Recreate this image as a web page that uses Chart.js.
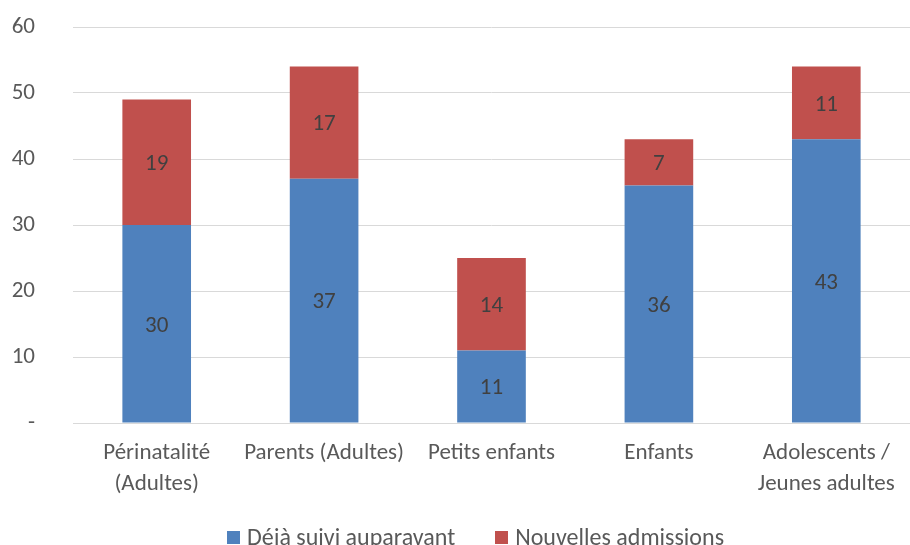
<!DOCTYPE html>
<html>
<head>
<meta charset="utf-8">
<script src="https://cdn.jsdelivr.net/npm/chart.js@4"></script>
<style>
  html, body { margin: 0; padding: 0; background: #fff; }
  #wrap { position: relative; width: 910px; height: 545px; }
  #legende {
    position: absolute; left: 0; right: 0; top: 522px; height: 28px;
    display: flex; justify-content: center; align-items: center; gap: 40px;
    font: 24px Calibri, Carlito, "Open Sans", sans-serif; color: #595959;
    padding-left: 41px;
  }
  #legende span.item { display: flex; align-items: center; white-space: nowrap; }
  #legende span.carre { display: inline-block; width: 13px; height: 13px; margin-right: 7px; margin-top: 2px; }
</style>
</head>
<body>
<div id="wrap">
  <canvas id="chart1"></canvas>
  <div id="legende"></div>
</div>
<script>
const categories = [
    ['Périnatalité', '(Adultes)'],
    'Parents (Adultes)',
    'Petits enfants',
    'Enfants',
    ['Adolescents /', 'Jeunes adultes']
];
const dejaSuivi = [30, 37, 11, 36, 43];
const nouvelles = [19, 17, 14, 7, 11];
const yTicks = [0, 10, 20, 30, 40, 50, 60];

const police = 'Calibri, Carlito, "Open Sans", sans-serif';

// write each segment's value in the middle of its bar
const valeursPlugin = {
    id: 'valeurs',
    afterDatasetsDraw(chart) {
        const ctx = chart.ctx;
        ctx.save();
        ctx.font = '23px ' + police;
        ctx.fillStyle = '#404040';
        ctx.textAlign = 'center';
        ctx.textBaseline = 'middle';
        chart.data.datasets.forEach((ds, i) => {
            chart.getDatasetMeta(i).data.forEach((bar, j) => {
                const mid = (bar.y + bar.base) / 2 + 2;
                ctx.fillText(ds.data[j], bar.x, mid);
            });
        });
        ctx.restore();
    }
};

// legend under the chart, built from the datasets
function crearLeyenda(chart) {
    const cont = document.getElementById('legende');
    cont.innerHTML = '';
    chart.data.datasets.forEach(ds => {
        const item = document.createElement('span');
        item.className = 'item';
        const carre = document.createElement('span');
        carre.className = 'carre';
        carre.style.background = ds.backgroundColor;
        item.appendChild(carre);
        item.appendChild(document.createTextNode(ds.label));
        cont.appendChild(item);
    });
}

let tablaAdmissions;
function crearTabla() {
    const ctx = document.getElementById('chart1');
    const config = {
        type: 'bar',
        data: {
            labels: categories,
            datasets: [{
                label: 'Déjà suivi auparavant',
                data: dejaSuivi,
                backgroundColor: '#4F81BD'
            }, {
                label: 'Nouvelles admissions',
                data: nouvelles,
                backgroundColor: '#C0504D'
            }]
        },
        options: {
            responsive: true,
            maintainAspectRatio: false,
            animation: false,
            layout: { padding: { top: 27, right: 0, left: 0, bottom: 47 } },
            datasets: { bar: { categoryPercentage: 1, barPercentage: 0.41 } },
            scales: {
                x: {
                    stacked: true,
                    afterFit: (scale) => {
                        scale.height = 75;
                        scale.paddingLeft = 0;
                        scale.paddingRight = 0;
                    },
                    grid: { display: false },
                    border: { color: '#D9D9D9', width: 1 },
                    ticks: {
                        color: '#595959',
                        font: { size: 23, family: police, lineHeight: 1.33 },
                        padding: 7,
                        maxRotation: 0
                    }
                },
                y: {
                    stacked: true,
                    min: 0,
                    max: 60,
                    afterFit: (scale) => {
                        scale.width = 73;
                        scale.paddingTop = 0;
                        scale.paddingBottom = 0;
                    },
                    afterBuildTicks: (scale) => { scale.ticks = yTicks.map(v => ({ value: v })); },
                    grid: { color: '#D9D9D9', lineWidth: 1, drawTicks: false },
                    border: { display: false },
                    ticks: {
                        color: '#595959',
                        padding: 38,
                        font: { size: 23, family: police },
                        callback: (v) => v === 0 ? '-' : v
                    }
                }
            },
            plugins: {
                legend: { display: false },
                tooltip: { enabled: false }
            }
        },
        plugins: [valeursPlugin]
    };
    if (tablaAdmissions instanceof Chart) {
        tablaAdmissions.destroy();
    }
    tablaAdmissions = new Chart(ctx, config);
    crearLeyenda(tablaAdmissions);
}

crearTabla();
</script>
</body>
</html>
